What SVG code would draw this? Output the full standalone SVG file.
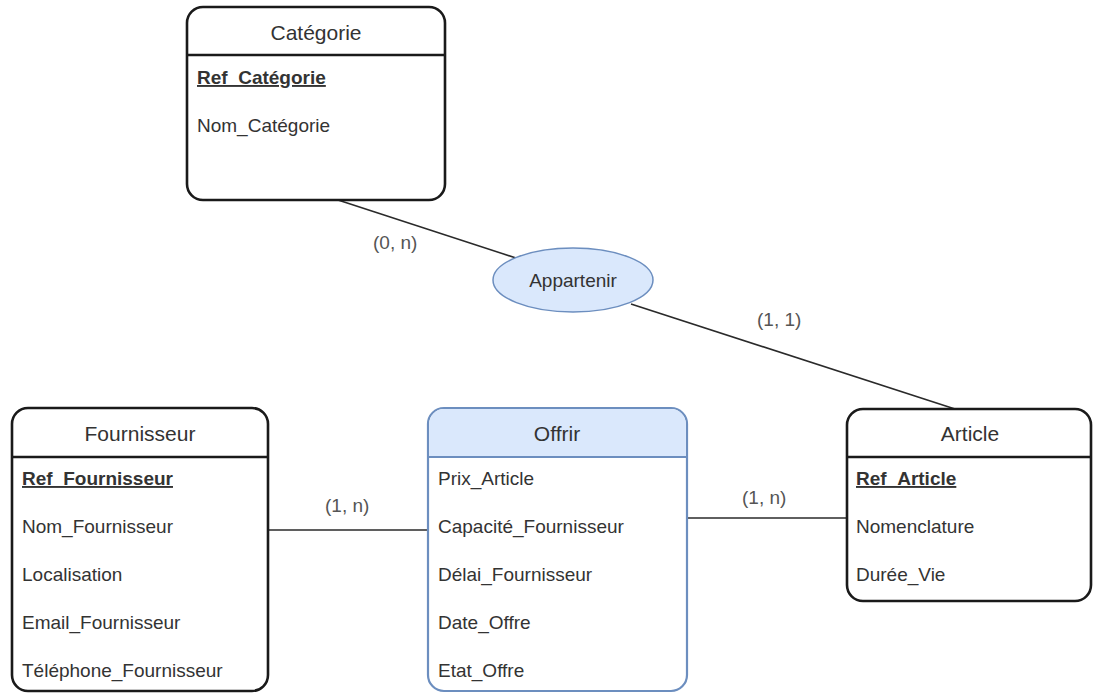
<svg xmlns="http://www.w3.org/2000/svg" width="1094" height="695" viewBox="0 0 1094 695">
  <style>
    .box { fill: #ffffff; stroke: #1a1a1a; stroke-width: 2.6; }
    .sep { stroke: #1a1a1a; stroke-width: 2.6; }
    .rel { fill: #ffffff; stroke: #6c8ebf; stroke-width: 2.2; }
    .relhead { fill: #dae8fc; }
    .relsep { stroke: #6c8ebf; stroke-width: 2.2; }
    .title { font-family: "Liberation Sans", Arial, sans-serif; font-size: 21px; fill: #333333; text-anchor: middle; }
    .attr { font-family: "Liberation Sans", Arial, sans-serif; font-size: 19px; fill: #333333; }
    .key { font-weight: bold; text-decoration: underline; }
    .card { font-family: "Liberation Sans", Arial, sans-serif; font-size: 19px; fill: #555555; }
    .link { stroke: #2a2a2a; stroke-width: 1.6; fill: none; }
  </style>

  <rect width="1094" height="695" fill="#ffffff"/>

  <!-- connectors -->
  <g id="connectors">
    <line class="link" x1="338" y1="200" x2="516" y2="258"/>
    <line class="link" x1="631" y1="304" x2="955" y2="409"/>
    <line class="link" x1="268" y1="530" x2="428" y2="530"/>
    <line class="link" x1="687" y1="518" x2="847" y2="518"/>
    <text class="card" x="373" y="249">(0, n)</text>
    <text class="card" x="757" y="326">(1, 1)</text>
    <text class="card" x="325" y="512">(1, n)</text>
    <text class="card" x="742" y="504">(1, n)</text>
  </g>

  <!-- entity Catégorie -->
  <g id="categorie">
    <rect class="box" x="187" y="7" width="258" height="193" rx="16" ry="16"/>
    <line class="sep" x1="187" y1="55" x2="445" y2="55"/>
    <text class="title" x="316" y="40">Catégorie</text>
    <text class="attr key" x="197" y="84">Ref_Catégorie</text>
    <text class="attr" x="197" y="132">Nom_Catégorie</text>
  </g>

  <!-- association Appartenir -->
  <g id="appartenir">
    <ellipse cx="573" cy="280" rx="80" ry="32" fill="#dae8fc" stroke="#6c8ebf" stroke-width="1.5"/>
    <text class="attr" x="573" y="287" text-anchor="middle">Appartenir</text>
  </g>

  <!-- entity Fournisseur -->
  <g id="fournisseur">
    <rect class="box" x="12" y="408" width="256" height="283" rx="16" ry="16"/>
    <line class="sep" x1="12" y1="457" x2="268" y2="457"/>
    <text class="title" x="140" y="441">Fournisseur</text>
    <text class="attr key" x="22" y="485">Ref_Fournisseur</text>
    <text class="attr" x="22" y="533">Nom_Fournisseur</text>
    <text class="attr" x="22" y="581">Localisation</text>
    <text class="attr" x="22" y="629">Email_Fournisseur</text>
    <text class="attr" x="22" y="677">Téléphone_Fournisseur</text>
  </g>

  <!-- association Offrir (with attributes) -->
  <g id="offrir">
    <rect class="rel" x="428" y="408" width="259" height="283" rx="16" ry="16"/>
    <path class="relhead" d="M 429.1 457 L 429.1 424 A 14.9 14.9 0 0 1 444 409.1 L 671 409.1 A 14.9 14.9 0 0 1 685.9 424 L 685.9 457 Z"/>
    <line class="relsep" x1="428" y1="457" x2="687" y2="457"/>
    <text class="title" x="557" y="441">Offrir</text>
    <text class="attr" x="438" y="485">Prix_Article</text>
    <text class="attr" x="438" y="533">Capacité_Fournisseur</text>
    <text class="attr" x="438" y="581">Délai_Fournisseur</text>
    <text class="attr" x="438" y="629">Date_Offre</text>
    <text class="attr" x="438" y="677">Etat_Offre</text>
  </g>

  <!-- entity Article -->
  <g id="article">
    <rect class="box" x="847" y="409" width="244" height="192" rx="16" ry="16"/>
    <line class="sep" x1="847" y1="457" x2="1091" y2="457"/>
    <text class="title" x="970" y="441">Article</text>
    <text class="attr key" x="856" y="485">Ref_Article</text>
    <text class="attr" x="856" y="533">Nomenclature</text>
    <text class="attr" x="856" y="581">Durée_Vie</text>
  </g>
</svg>
